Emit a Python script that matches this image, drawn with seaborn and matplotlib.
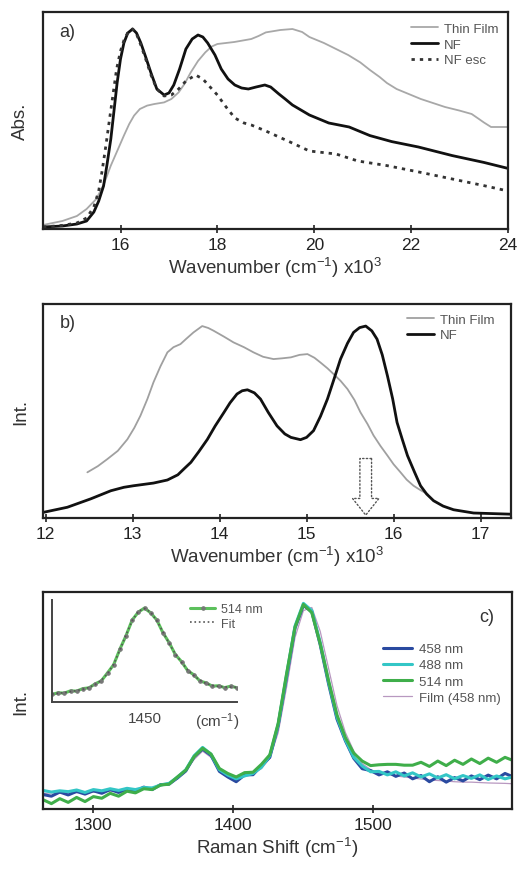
import matplotlib
matplotlib.use('Agg')
import matplotlib.pyplot as plt
import seaborn as sns

sns.set_style('white')
plt.rcParams['font.family'] = ['Liberation Sans', 'DejaVu Sans']
plt.rcParams['mathtext.fontset'] = 'custom'
plt.rcParams['mathtext.rm'] = 'Liberation Sans'
plt.rcParams['mathtext.it'] = 'Liberation Sans:italic'

# ---------------- Panel a: absorption ----------------
a_nf_x = [14.40, 14.80, 15.10, 15.30, 15.45, 15.55, 15.65, 15.72, 15.80, 15.87, 15.93, 16.00, 16.07, 16.15,
          16.25, 16.33, 16.42, 16.52, 16.63, 16.75, 16.90, 17.00, 17.10, 17.22, 17.35, 17.48, 17.60, 17.70,
          17.80, 17.95, 18.08, 18.22, 18.36, 18.50, 18.64, 18.80, 18.98, 19.10, 19.27, 19.40, 19.55, 19.90,
          20.30, 20.72, 21.15, 21.60, 22.15, 22.85, 23.50, 24.00]
a_nf_y = [0.010, 0.015, 0.025, 0.040, 0.085, 0.140, 0.215, 0.320, 0.450, 0.600, 0.730, 0.850, 0.930, 0.980,
          1.000, 0.980, 0.930, 0.860, 0.780, 0.700, 0.670, 0.680, 0.720, 0.800, 0.900, 0.950, 0.970, 0.960,
          0.930, 0.870, 0.800, 0.750, 0.720, 0.705, 0.700, 0.710, 0.720, 0.710, 0.675, 0.650, 0.620, 0.570,
          0.530, 0.510, 0.467, 0.437, 0.410, 0.367, 0.333, 0.303]
a_esc_x = [14.40, 14.80, 15.10, 15.30, 15.45, 15.55, 15.62, 15.70, 15.78, 15.85, 15.92, 16.00, 16.08, 16.17,
           16.25, 16.33, 16.42, 16.52, 16.63, 16.75, 16.90, 17.05, 17.20, 17.35, 17.55, 17.70, 17.85, 18.00,
           18.18, 18.36, 18.55, 18.70, 19.00, 19.50, 19.90, 20.45, 20.90, 21.50, 22.20, 22.85, 23.50, 24.00]
a_esc_y = [0.010, 0.018, 0.030, 0.055, 0.110, 0.190, 0.290, 0.420, 0.560, 0.680, 0.800, 0.890, 0.950, 0.990,
           1.000, 0.975, 0.920, 0.850, 0.770, 0.700, 0.665, 0.670, 0.700, 0.740, 0.770, 0.750, 0.710, 0.670,
           0.610, 0.555, 0.530, 0.520, 0.490, 0.435, 0.390, 0.375, 0.340, 0.317, 0.283, 0.250, 0.217, 0.190]
a_tf_x = [14.40, 14.80, 15.10, 15.30, 15.50, 15.65, 15.80, 15.95, 16.07, 16.18, 16.28, 16.40, 16.55, 16.70,
          16.90, 17.05, 17.20, 17.32, 17.45, 17.60, 17.75, 17.88, 18.00, 18.35, 18.70, 18.85, 19.00, 19.30,
          19.55, 19.75, 19.90, 20.20, 20.45, 20.70, 20.95, 21.15, 21.35, 21.50, 21.70, 21.95, 22.20, 22.45,
          22.70, 23.00, 23.25, 23.40, 23.50, 23.65, 24.00]
a_tf_y = [0.020, 0.040, 0.065, 0.100, 0.150, 0.220, 0.317, 0.400, 0.467, 0.525, 0.567, 0.600, 0.617, 0.625,
          0.633, 0.650, 0.683, 0.725, 0.783, 0.840, 0.883, 0.912, 0.925, 0.935, 0.950, 0.965, 0.983, 0.995,
          1.000, 0.985, 0.960, 0.930, 0.900, 0.870, 0.833, 0.795, 0.760, 0.730, 0.700, 0.675, 0.650, 0.630,
          0.610, 0.592, 0.575, 0.550, 0.533, 0.510, 0.510]
a_ticks = [16, 18, 20, 22, 24]

# ---------------- Panel b: emission ----------------
b_nf_x = [11.98, 12.25, 12.52, 12.75, 12.90, 13.01, 13.24, 13.40, 13.52, 13.60, 13.67, 13.76, 13.86, 13.95,
          14.05, 14.12, 14.20, 14.26, 14.32, 14.40, 14.47, 14.56, 14.66, 14.75, 14.82, 14.93, 15.00, 15.08,
          15.16, 15.24, 15.32, 15.39, 15.47, 15.54, 15.61, 15.68, 15.75, 15.81, 15.87, 15.93, 15.99, 16.04,
          16.10, 16.16, 16.24, 16.31, 16.38, 16.46, 16.57, 16.69, 16.92, 17.34]
b_nf_y = [0.030, 0.056, 0.100, 0.142, 0.160, 0.168, 0.182, 0.198, 0.225, 0.260, 0.290, 0.345, 0.410, 0.480,
          0.550, 0.600, 0.646, 0.663, 0.668, 0.652, 0.620, 0.550, 0.480, 0.438, 0.420, 0.408, 0.420, 0.455,
          0.530, 0.620, 0.730, 0.828, 0.910, 0.967, 0.992, 1.000, 0.975, 0.932, 0.850, 0.740, 0.620, 0.498,
          0.410, 0.325, 0.240, 0.168, 0.125, 0.090, 0.062, 0.043, 0.026, 0.020]
b_tf_x = [12.48, 12.60, 12.71, 12.83, 12.94, 13.02, 13.09, 13.17, 13.24, 13.32, 13.40, 13.47, 13.55, 13.62,
          13.70, 13.80, 13.87, 13.93, 14.05, 14.16, 14.28, 14.39, 14.50, 14.62, 14.72, 14.82, 14.92, 15.01,
          15.09, 15.16, 15.24, 15.31, 15.39, 15.47, 15.55, 15.62, 15.70, 15.77, 15.85, 15.93, 16.00, 16.08,
          16.15, 16.23, 16.31, 16.39]
b_tf_y = [0.238, 0.270, 0.307, 0.350, 0.410, 0.470, 0.533, 0.620, 0.707, 0.790, 0.863, 0.890, 0.906, 0.935,
          0.967, 1.000, 0.990, 0.976, 0.945, 0.915, 0.890, 0.863, 0.840, 0.828, 0.832, 0.837, 0.850, 0.854,
          0.835, 0.810, 0.780, 0.750, 0.715, 0.672, 0.615, 0.550, 0.490, 0.430, 0.375, 0.325, 0.280, 0.238,
          0.200, 0.168, 0.145, 0.125]
b_ticks = [12, 13, 14, 15, 16, 17]
b_arrow_x = 15.68
b_arrow_y = (0.31, 0.015)

# ---------------- Panel c: Raman ----------------
c_x = [1264, 1270, 1276, 1282, 1288, 1294, 1300, 1306, 1312, 1318, 1324, 1330, 1336, 1342, 1348, 1354, 1360,
       1366, 1372, 1378, 1384, 1390, 1396, 1402, 1408, 1414, 1420, 1426, 1432, 1438, 1444, 1450, 1456, 1462,
       1468, 1474, 1480, 1486, 1492, 1498, 1504, 1510, 1516, 1522, 1528, 1534, 1540, 1546, 1552, 1558, 1564,
       1570, 1576, 1582, 1588, 1594, 1600]
c_458 = [0.070, 0.062, 0.082, 0.068, 0.085, 0.072, 0.088, 0.076, 0.094, 0.080,
         0.097, 0.086, 0.106, 0.094, 0.118, 0.120, 0.150, 0.184, 0.254, 0.290,
         0.260, 0.182, 0.155, 0.132, 0.165, 0.166, 0.210, 0.250, 0.405, 0.640,
         0.875, 0.985, 0.955, 0.795, 0.605, 0.435, 0.330, 0.245, 0.195, 0.186,
         0.165, 0.180, 0.158, 0.174, 0.146, 0.162, 0.132, 0.156, 0.130, 0.152,
         0.136, 0.160, 0.142, 0.164, 0.146, 0.172, 0.155]
c_488 = [0.090, 0.082, 0.088, 0.084, 0.092, 0.080, 0.094, 0.088, 0.098, 0.090,
         0.100, 0.094, 0.104, 0.102, 0.116, 0.124, 0.154, 0.190, 0.258, 0.298,
         0.265, 0.190, 0.164, 0.146, 0.160, 0.172, 0.202, 0.258, 0.410, 0.650,
         0.885, 0.995, 0.960, 0.805, 0.615, 0.445, 0.335, 0.250, 0.208, 0.180,
         0.182, 0.165, 0.180, 0.160, 0.175, 0.155, 0.170, 0.150, 0.166, 0.146,
         0.162, 0.148, 0.165, 0.143, 0.160, 0.146, 0.156]
c_514 = [0.045, 0.026, 0.050, 0.032, 0.056, 0.036, 0.060, 0.052, 0.076, 0.062,
         0.086, 0.078, 0.098, 0.094, 0.116, 0.120, 0.155, 0.188, 0.254, 0.294,
         0.266, 0.196, 0.172, 0.155, 0.176, 0.178, 0.216, 0.262, 0.415, 0.655,
         0.880, 0.990, 0.950, 0.800, 0.620, 0.455, 0.345, 0.270, 0.232, 0.210,
         0.214, 0.216, 0.216, 0.212, 0.212, 0.226, 0.206, 0.232, 0.210, 0.236,
         0.216, 0.242, 0.220, 0.246, 0.226, 0.250, 0.234]
c_film = [0.075, 0.078, 0.076, 0.080, 0.079, 0.082, 0.081, 0.084, 0.086, 0.088,
          0.090, 0.094, 0.098, 0.104, 0.112, 0.124, 0.145, 0.185, 0.240, 0.280,
          0.250, 0.190, 0.158, 0.150, 0.158, 0.172, 0.195, 0.245, 0.370, 0.590,
          0.830, 0.960, 0.975, 0.860, 0.680, 0.500, 0.370, 0.280, 0.220, 0.190,
          0.175, 0.168, 0.160, 0.155, 0.150, 0.145, 0.140, 0.138, 0.135, 0.132,
          0.130, 0.130, 0.128, 0.126, 0.125, 0.124, 0.122]
c_ticks = [1300, 1400, 1500]
c_labels = ['458 nm', '488 nm', '514 nm', 'Film (458 nm)']

inset_x = [1390, 1394, 1398, 1402, 1406, 1410, 1414, 1418, 1422, 1426, 1430, 1434, 1438, 1442, 1446, 1450,
           1454, 1458, 1462, 1466, 1470, 1474, 1478, 1482, 1486, 1490, 1494, 1498, 1502, 1506, 1510]
inset_data = [0.080, 0.098, 0.094, 0.118, 0.115, 0.142, 0.150, 0.192, 0.224, 0.308, 0.395, 0.558, 0.702,
              0.868, 0.952, 0.995, 0.944, 0.868, 0.732, 0.628, 0.502, 0.428, 0.332, 0.288, 0.222, 0.202,
              0.168, 0.172, 0.152, 0.168, 0.150]
inset_fit = [0.085, 0.092, 0.100, 0.110, 0.121, 0.135, 0.155, 0.185, 0.230, 0.300, 0.400, 0.550, 0.710,
             0.860, 0.960, 0.990, 0.950, 0.860, 0.740, 0.620, 0.510, 0.420, 0.340, 0.280, 0.230, 0.195,
             0.175, 0.165, 0.160, 0.158, 0.157]

# ---------------- figure ----------------
W, H = 522, 878
fig = plt.figure(figsize=(W / 100, H / 100), dpi=100)


def box(x0, y0, x1, y1):
    return [x0 / W, 1 - y1 / H, (x1 - x0) / W, (y1 - y0) / H]


axa = fig.add_axes(box(43, 13, 508, 230))
axb = fig.add_axes(box(43, 305, 511, 519))
axc = fig.add_axes(box(43, 593, 512, 810))
axi = fig.add_axes(box(52, 601, 237, 703))

TICK = 12.5
LAB = 13.5
LEG = 9.5


def style(ax):
    for s in ax.spines.values():
        s.set_linewidth(1.6)
        s.set_color('#222222')
        s.set_visible(True)
    ax.tick_params(axis='x', direction='inout', length=6, width=1.2, labelsize=TICK, pad=3,
                   colors='#222222', bottom=True)
    ax.tick_params(axis='y', left=False, labelleft=False)
    ax.set_facecolor('white')


# Panel a
sns.lineplot(x=a_tf_x, y=a_tf_y, ax=axa, color='#a8a8a8', lw=1.3, label='Thin Film')
sns.lineplot(x=a_nf_x, y=a_nf_y, ax=axa, color='#111111', lw=2.0, label='NF')
sns.lineplot(x=a_esc_x, y=a_esc_y, ax=axa, color='#333333', lw=2.0, ls=(0, (1.2, 1.8)), label='NF esc')
axa.set_xlim(14.4, 24.0)
axa.set_ylim(0, 1.085)
axa.set_xticks(a_ticks)
style(axa)
axa.set_xlabel('Wavenumber (cm$^{-1}$) x10$^3$', fontsize=LAB, color='#333333', labelpad=2)
axa.set_ylabel('Abs.', fontsize=LAB, color='#333333', labelpad=10)
axa.text(0.035, 0.91, 'a)', transform=axa.transAxes, fontsize=13, color='#333333', va='center')
axa.legend(loc='upper right', bbox_to_anchor=(0.98, 0.95), frameon=False, fontsize=LEG, borderpad=0,
           borderaxespad=0, handlelength=2.0, handletextpad=0.5, labelspacing=0.25, labelcolor='#555555')

# Panel b
sns.lineplot(x=b_tf_x, y=b_tf_y, ax=axb, color='#a0a0a0', lw=1.3, label='Thin Film')
sns.lineplot(x=b_nf_x, y=b_nf_y, ax=axb, color='#111111', lw=2.0, label='NF')
axb.set_xlim(11.97, 17.35)
axb.set_ylim(0, 1.115)
axb.set_xticks(b_ticks)
style(axb)
axb.set_xlabel('Wavenumber (cm$^{-1}$) x10$^3$', fontsize=LAB, color='#333333', labelpad=2)
axb.set_ylabel('Int.', fontsize=LAB, color='#333333', labelpad=10)
axb.text(0.035, 0.915, 'b)', transform=axb.transAxes, fontsize=13, color='#333333', va='center')
axb.legend(loc='upper right', bbox_to_anchor=(0.965, 0.955), frameon=False, fontsize=LEG, borderpad=0,
           borderaxespad=0, handlelength=2.0, handletextpad=0.5, labelspacing=0.25, labelcolor='#555555')
axb.annotate('', xy=(b_arrow_x, b_arrow_y[1]), xytext=(b_arrow_x, b_arrow_y[0]),
             arrowprops=dict(arrowstyle='simple,head_length=0.6,head_width=0.95,tail_width=0.42',
                             mutation_scale=20, fc='white', ec='#555555', ls=':', lw=1.0,
                             shrinkA=0, shrinkB=0))

# Panel c
sns.lineplot(x=c_x, y=c_film, ax=axc, color='#b898c0', lw=0.9, label=c_labels[3])
sns.lineplot(x=c_x, y=c_458, ax=axc, color='#2a4aa0', lw=2.2, label=c_labels[0])
sns.lineplot(x=c_x, y=c_488, ax=axc, color='#33c6c6', lw=2.2, label=c_labels[1])
sns.lineplot(x=c_x, y=c_514, ax=axc, color='#3fae4a', lw=2.2, label=c_labels[2])
axc.set_xlim(1264, 1599)
axc.set_ylim(0, 1.05)
axc.set_xticks(c_ticks)
style(axc)
axc.set_xlabel('Raman Shift (cm$^{-1}$)', fontsize=LAB, color='#333333', labelpad=2)
axc.set_ylabel('Int.', fontsize=LAB, color='#333333', labelpad=10)
axc.text(0.947, 0.885, 'c)', transform=axc.transAxes, fontsize=13, color='#333333', va='center',
         ha='center')
h, l = axc.get_legend_handles_labels()
order = [l.index(x) for x in c_labels]
axc.legend([h[i] for i in order], [l[i] for i in order], loc='upper right', bbox_to_anchor=(0.975, 0.765),
           frameon=False, fontsize=LEG, borderpad=0, borderaxespad=0, handlelength=2.2,
           handletextpad=0.5, labelspacing=0.3, labelcolor='#555555')

# Inset
sns.lineplot(x=inset_x, y=inset_data, ax=axi, color='#5cc05c', lw=2.2, marker='o', ms=2.5,
             mfc='#777777', mec='#777777', label='514 nm')
sns.lineplot(x=inset_x, y=inset_fit, ax=axi, color='#555555', lw=1.2, ls=':', label='Fit')
axi.set_xlim(1390, 1510)
axi.set_ylim(0, 1.08)
axi.set_xticks([1450])
axi.patch.set_alpha(0)
for s in ['top', 'right']:
    axi.spines[s].set_visible(False)
for s in ['left', 'bottom']:
    axi.spines[s].set_linewidth(1.4)
    axi.spines[s].set_color('#444444')
axi.tick_params(axis='x', direction='inout', length=5, width=1.2, labelsize=TICK - 1.5, pad=4,
                colors='#444444')
axi.tick_params(axis='y', left=False, labelleft=False)
axi.set_xlabel('')
axi.set_ylabel('')
axi.text(0.895, -0.19, '(cm$^{-1}$)', transform=axi.transAxes, fontsize=TICK - 1.5, color='#444444',
         ha='center', va='center')
axi.legend(loc='upper right', bbox_to_anchor=(1.14, 0.97), frameon=False, fontsize=LEG - 0.5, borderpad=0,
           borderaxespad=0, handlelength=2.0, handletextpad=0.5, labelspacing=0.2, labelcolor='#555555')

fig.savefig('out.png', dpi=100, facecolor='white')
